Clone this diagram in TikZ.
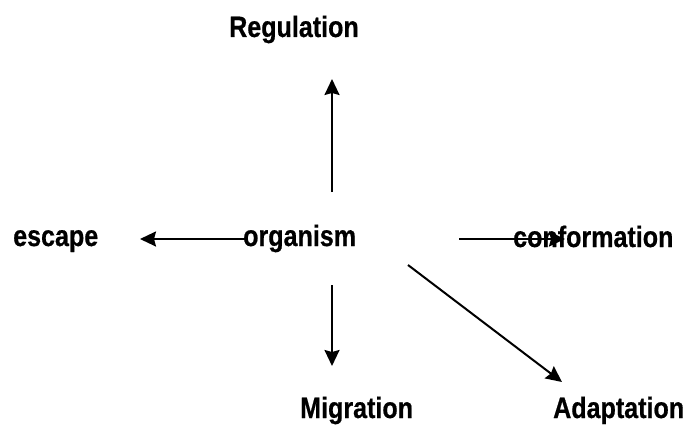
\documentclass[tikz,border=0pt]{standalone}
\usepackage{fontspec}
\setmainfont{Liberation Sans}[FakeStretch=0.85,FakeBold=0.6]
\usetikzlibrary{arrows.meta}
\begin{document}
\begin{tikzpicture}[x=1pt,y=-1pt,
  lbl/.style={anchor=base west,inner sep=0pt,font=\bfseries\fontsize{29.5}{34}\selectfont},
  arr/.style={line width=2pt,-{Stealth[length=16pt,width=15pt,inset=2pt]}}]
\useasboundingbox (0,0) rectangle (687,425);
\node[lbl] (reg) at (229,37) {Regulation};
\node[lbl] (org) at (243,246) {organism};
\node[lbl] (esc) at (13,246) {escape};
\node[lbl] (conf) at (513,247) {conformation};
\node[lbl] (mig) at (300,418) {Migration};
\node[lbl] (adap) at (553,418) {Adaptation};
\coordinate (upS) at (332,192);
\coordinate (upE) at (332,79);
\coordinate (lS) at (245,239);
\coordinate (lE) at (140,239);
\coordinate (rS) at (459,239);
\coordinate (rE) at (565,239);
\coordinate (dS) at (332,285);
\coordinate (dE) at (332,366);
\coordinate (gS) at (408,265);
\coordinate (gE) at (562,382);
\draw[arr] (upS) -- (upE);
\draw[arr] (lS) -- (lE);
\draw[arr] (rS) -- (rE);
\draw[arr] (dS) -- (dE);
\draw[arr] (gS) -- (gE);
\end{tikzpicture}
\end{document}
